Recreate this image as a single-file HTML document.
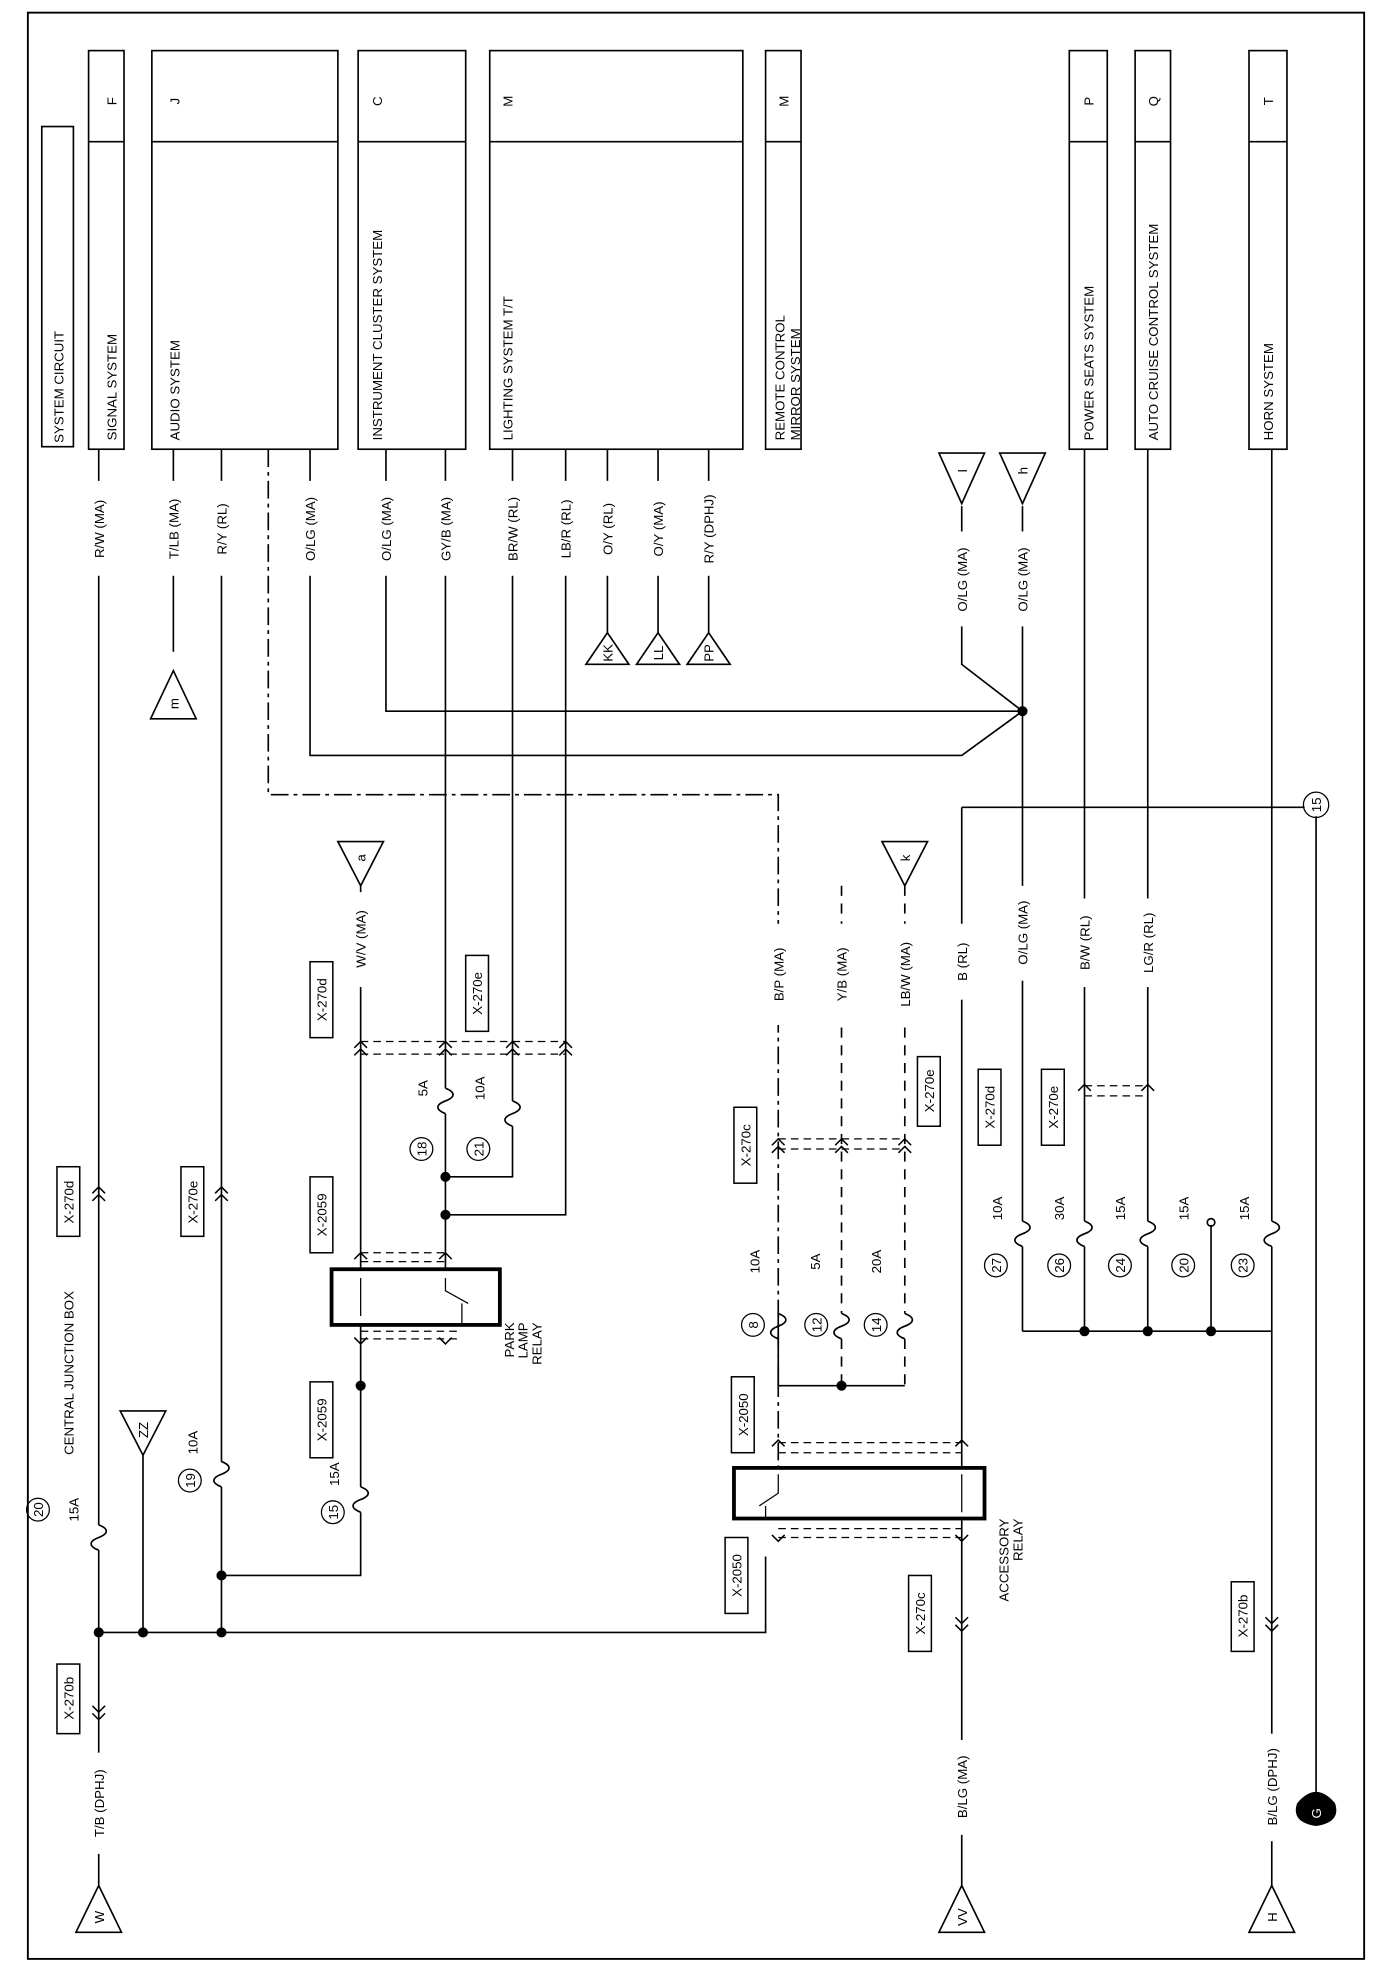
<!DOCTYPE html>
<html><head><meta charset="utf-8"><style>
html,body{margin:0;padding:0;background:#fff}
svg{display:block}
text{font-family:"Liberation Sans",sans-serif;font-size:10.5px;fill:#000}
</style></head><body>
<svg width="1392" height="1988" viewBox="0 0 1100 1571" xmlns="http://www.w3.org/2000/svg">
<rect x="22" y="10" width="1056" height="1538" fill="none" stroke="#000" stroke-width="1.5"/>
<g fill="none" stroke="#000" stroke-width="1.3">
<rect x="33" y="100" width="25" height="253"/>
<rect x="70" y="40" width="28" height="315"/><line x1="70" y1="112" x2="98" y2="112"/>
<rect x="120" y="40" width="147" height="315"/><line x1="120" y1="112" x2="267" y2="112"/>
<rect x="283" y="40" width="85" height="315"/><line x1="283" y1="112" x2="368" y2="112"/>
<rect x="387" y="40" width="200" height="315"/><line x1="387" y1="112" x2="587" y2="112"/>
<rect x="605" y="40" width="28" height="315"/><line x1="605" y1="112" x2="633" y2="112"/>
<rect x="845" y="40" width="30" height="315"/><line x1="845" y1="112" x2="875" y2="112"/>
<rect x="897" y="40" width="28" height="315"/><line x1="897" y1="112" x2="925" y2="112"/>
<rect x="987" y="40" width="30" height="315"/><line x1="987" y1="112" x2="1017" y2="112"/>
<path d="M78 355V1205M78 1225V1490"/>
<path d="M137 355V515"/>
<path d="M175 355V1155M175 1175V1290"/>
<path d="M113 1150V1290"/>
<path d="M78 1290H605V1230"/>
<path d="M212 355V628H615V1090" stroke-dasharray="14 4 3 4"/>
<path d="M245 355V597H760L808 562"/>
<path d="M305 355V562H808"/>
<path d="M352 355V860M352 880V1003"/>
<path d="M405 355V870M405 890V930H352"/>
<path d="M447 355V960H352"/>
<path d="M480 355V500M520 355V500M560 355V500"/>
<path d="M285 700V1003M285 1047V1175M285 1195V1245H175"/>
<path d="M615 1090V1160" stroke-dasharray="14 4 3 4"/>
<path d="M665 700V1038M665 1058V1095" stroke-dasharray="8 6"/>
<path d="M715 700V1038M715 1058V1095" stroke-dasharray="8 6"/>
<path d="M615 1038V1095H715M615 1058V1095"/>
<path d="M760 638V1160M760 1200V1490"/>
<path d="M760 638H1031"/>
<path d="M760 400V525L808 562M808 400V562V965M808 985V1052"/>
<path d="M857 355V965M857 985V1052"/>
<path d="M907 355V965M907 985V1052"/>
<path d="M957 968V1052"/>
<path d="M1005 355V965M1005 985V1490"/>
<path d="M808 1052H1005"/>
<path d="M1040 645V1420"/>
<g stroke-dasharray="6 4" stroke-width="1">
<path d="M285 823H447M285 833H447"/>
<path d="M285 990H352M285 997H352"/>
<path d="M285 1052H365M285 1058H365"/>
<path d="M615 900H715M615 908H715"/>
<path d="M615 1140H760M615 1148H760"/>
<path d="M615 1208H760M615 1215H760"/>
<path d="M857 858H907M857 866H907"/>
</g>
<rect x="262" y="1003" width="133" height="44" stroke-width="3"/>
<path d="M285 1010V1040M352 1010V1020L370 1030M365 1030V1047" stroke-width="1"/>
<rect x="580" y="1160" width="198" height="40" stroke-width="3"/>
<path d="M615 1165V1180L600 1190M605 1190V1200M760 1165V1195" stroke-width="1"/>
<g stroke-width="1.3">
<path d="M78 1205c8 3 8 7 0 10c-8 3 -8 7 0 10"/>
<path d="M175 1155c8 3 8 7 0 10c-8 3 -8 7 0 10"/>
<path d="M285 1175c8 3 8 7 0 10c-8 3 -8 7 0 10"/>
<path d="M352 860c8 3 8 7 0 10c-8 3 -8 7 0 10"/>
<path d="M405 870c8 3 8 7 0 10c-8 3 -8 7 0 10"/>
<path d="M615 1038c8 3 8 7 0 10c-8 3 -8 7 0 10"/>
<path d="M665 1038c8 3 8 7 0 10c-8 3 -8 7 0 10"/>
<path d="M715 1038c8 3 8 7 0 10c-8 3 -8 7 0 10"/>
<path d="M808 965c8 3 8 7 0 10c-8 3 -8 7 0 10"/>
<path d="M857 965c8 3 8 7 0 10c-8 3 -8 7 0 10"/>
<path d="M907 965c8 3 8 7 0 10c-8 3 -8 7 0 10"/>
<path d="M1005 965c8 3 8 7 0 10c-8 3 -8 7 0 10"/>
</g>
<circle cx="957" cy="966" r="3"/>
<g stroke-width="1.2">
<path d="M73 943l5-5 5 5M73 949l5-5 5 5"/>
<path d="M170 943l5-5 5 5M170 949l5-5 5 5"/>
<path d="M73 1348l5 5 5-5M73 1354l5 5 5-5"/>
<path d="M1000 1278l5 5 5-5M1000 1284l5 5 5-5"/>
<path d="M755 1278l5 5 5-5M755 1284l5 5 5-5"/>
<path d="M280 828l5-5 5 5M280 834l5-5 5 5M347 828l5-5 5 5M347 834l5-5 5 5M400 828l5-5 5 5M400 834l5-5 5 5M442 828l5-5 5 5M442 834l5-5 5 5"/>
<path d="M280 995l5-5 5 5M347 995l5-5 5 5M280 1057l5 5 5-5M347 1057l5 5 5-5"/>
<path d="M610 905l5-5 5 5M660 905l5-5 5 5M710 905l5-5 5 5M610 911l5-5 5 5M660 911l5-5 5 5M710 911l5-5 5 5"/>
<path d="M610 1143l5-5 5 5M755 1143l5-5 5 5M610 1213l5 5 5-5M755 1213l5 5 5-5"/>
<path d="M852 862l5-5 5 5M902 862l5-5 5 5"/>
</g>
<path d="M137 530L155 568H119Z"/>
<path d="M480 500L497 525H463Z"/>
<path d="M520 500L537 525H503Z"/>
<path d="M560 500L577 525H543Z"/>
<path d="M760 398L742 358H778Z"/>
<path d="M808 398L790 358H826Z"/>
<path d="M285 700L267 665H303Z"/>
<path d="M715 700L697 665H733Z"/>
<path d="M113 1150L95 1115H131Z"/>
<path d="M78 1490L96 1527H60Z"/>
<path d="M760 1490L778 1527H742Z"/>
<path d="M1005 1490L1023 1527H987Z"/>
<g stroke-width="1">
<circle cx="30" cy="1193" r="9"/><circle cx="150" cy="1170" r="9"/><circle cx="263" cy="1195" r="9"/>
<circle cx="333" cy="908" r="9"/><circle cx="378" cy="908" r="9"/>
<circle cx="595" cy="1047" r="9"/><circle cx="645" cy="1047" r="9"/><circle cx="692" cy="1047" r="9"/>
<circle cx="787" cy="1000" r="9"/><circle cx="837" cy="1000" r="9"/><circle cx="885" cy="1000" r="9"/><circle cx="935" cy="1000" r="9"/><circle cx="982" cy="1000" r="9"/>
<circle cx="1040" cy="636" r="10"/>
</g>
<g stroke-width="1.2">
<rect x="45" y="922" width="18" height="55"/><rect x="143" y="922" width="18" height="55"/>
<rect x="245" y="760" width="18" height="60"/><rect x="368" y="755" width="18" height="60"/>
<rect x="245" y="930" width="18" height="60"/><rect x="245" y="1092" width="18" height="60"/>
<rect x="580" y="875" width="18" height="60"/><rect x="725" y="835" width="18" height="55"/>
<rect x="773" y="845" width="18" height="60"/><rect x="823" y="845" width="18" height="60"/>
<rect x="578" y="1088" width="18" height="60"/><rect x="573" y="1215" width="18" height="60"/>
<rect x="718" y="1245" width="18" height="60"/><rect x="45" y="1315" width="18" height="55"/>
<rect x="973" y="1250" width="18" height="55"/>
</g>
</g>
<g fill="#000">
<circle cx="78" cy="1290" r="4"/><circle cx="113" cy="1290" r="4"/><circle cx="175" cy="1290" r="4"/><circle cx="175" cy="1245" r="4"/>
<circle cx="285" cy="1095" r="4"/><circle cx="352" cy="930" r="4"/><circle cx="352" cy="960" r="4"/>
<circle cx="665" cy="1095" r="4"/><circle cx="808" cy="562" r="4"/>
<circle cx="857" cy="1052" r="4"/><circle cx="907" cy="1052" r="4"/><circle cx="957" cy="1052" r="4"/>
<path d="M1025 1425q15-18 30 0q5 15-15 18q-20-3-15-18z"/>
</g>
<g fill="#fff">
<rect x="70" y="380" width="16" height="75"/><rect x="129" y="380" width="16" height="75"/><rect x="167" y="380" width="16" height="75"/>
<rect x="237" y="380" width="16" height="75"/><rect x="297" y="380" width="16" height="75"/><rect x="344" y="380" width="16" height="75"/>
<rect x="397" y="380" width="16" height="75"/><rect x="439" y="380" width="16" height="75"/><rect x="472" y="380" width="16" height="75"/>
<rect x="512" y="380" width="16" height="75"/><rect x="552" y="380" width="16" height="75"/>
<rect x="752" y="420" width="16" height="75"/><rect x="800" y="420" width="16" height="75"/>
<rect x="277" y="705" width="16" height="75"/><rect x="607" y="730" width="16" height="80"/><rect x="657" y="730" width="16" height="80"/>
<rect x="707" y="730" width="16" height="80"/><rect x="752" y="730" width="16" height="60"/><rect x="800" y="700" width="16" height="75"/>
<rect x="849" y="710" width="16" height="70"/><rect x="899" y="710" width="16" height="70"/>
<rect x="70" y="1385" width="16" height="80"/><rect x="752" y="1375" width="16" height="75"/><rect x="997" y="1370" width="16" height="85"/>
</g>
<g>
<text transform="translate(50,350) rotate(-90)">SYSTEM CIRCUIT</text>
<text transform="translate(92,348) rotate(-90)">SIGNAL SYSTEM</text>
<text transform="translate(92,80) rotate(-90)" text-anchor="middle">F</text>
<text transform="translate(142,348) rotate(-90)">AUDIO SYSTEM</text>
<text transform="translate(142,80) rotate(-90)" text-anchor="middle">J</text>
<text transform="translate(302,348) rotate(-90)">INSTRUMENT CLUSTER SYSTEM</text>
<text transform="translate(302,80) rotate(-90)" text-anchor="middle">C</text>
<text transform="translate(405,348) rotate(-90)">LIGHTING SYSTEM T/T</text>
<text transform="translate(405,80) rotate(-90)" text-anchor="middle">M</text>
<text transform="translate(620,348) rotate(-90)">REMOTE CONTROL</text>
<text transform="translate(632,348) rotate(-90)">MIRROR SYSTEM</text>
<text transform="translate(623,80) rotate(-90)" text-anchor="middle">M</text>
<text transform="translate(864,348) rotate(-90)">POWER SEATS SYSTEM</text>
<text transform="translate(864,80) rotate(-90)" text-anchor="middle">P</text>
<text transform="translate(915,348) rotate(-90)">AUTO CRUISE CONTROL SYSTEM</text>
<text transform="translate(915,80) rotate(-90)" text-anchor="middle">Q</text>
<text transform="translate(1006,348) rotate(-90)">HORN SYSTEM</text>
<text transform="translate(1006,80) rotate(-90)" text-anchor="middle">T</text>
<g text-anchor="middle">
<text transform="translate(82,418) rotate(-90)">R/W (MA)</text>
<text transform="translate(141,418) rotate(-90)">T/LB (MA)</text>
<text transform="translate(179,418) rotate(-90)">R/Y (RL)</text>
<text transform="translate(249,418) rotate(-90)">O/LG (MA)</text>
<text transform="translate(309,418) rotate(-90)">O/LG (MA)</text>
<text transform="translate(356,418) rotate(-90)">GY/B (MA)</text>
<text transform="translate(409,418) rotate(-90)">BR/W (RL)</text>
<text transform="translate(451,418) rotate(-90)">LB/R (RL)</text>
<text transform="translate(484,418) rotate(-90)">O/Y (RL)</text>
<text transform="translate(524,418) rotate(-90)">O/Y (MA)</text>
<text transform="translate(564,418) rotate(-90)">R/Y (DPHJ)</text>
<text transform="translate(764,458) rotate(-90)">O/LG (MA)</text>
<text transform="translate(812,458) rotate(-90)">O/LG (MA)</text>
<text transform="translate(289,742) rotate(-90)">W/V (MA)</text>
<text transform="translate(619,770) rotate(-90)">B/P (MA)</text>
<text transform="translate(669,770) rotate(-90)">Y/B (MA)</text>
<text transform="translate(719,770) rotate(-90)">LB/W (MA)</text>
<text transform="translate(764,760) rotate(-90)">B (RL)</text>
<text transform="translate(812,737) rotate(-90)">O/LG (MA)</text>
<text transform="translate(861,745) rotate(-90)">B/W (RL)</text>
<text transform="translate(911,745) rotate(-90)">LG/R (RL)</text>
<text transform="translate(82,1425) rotate(-90)">T/B (DPHJ)</text>
<text transform="translate(764,1412) rotate(-90)">B/LG (MA)</text>
<text transform="translate(1009,1412) rotate(-90)">B/LG (DPHJ)</text>
<text transform="translate(58,1085) rotate(-90)">CENTRAL JUNCTION BOX</text>
<text transform="translate(62,1193) rotate(-90)">15A</text>
<text transform="translate(156,1140) rotate(-90)">10A</text>
<text transform="translate(268,1165) rotate(-90)">15A</text>
<text transform="translate(338,860) rotate(-90)">5A</text>
<text transform="translate(383,860) rotate(-90)">10A</text>
<text transform="translate(600,997) rotate(-90)">10A</text>
<text transform="translate(648,997) rotate(-90)">5A</text>
<text transform="translate(696,997) rotate(-90)">20A</text>
<text transform="translate(792,955) rotate(-90)">10A</text>
<text transform="translate(841,955) rotate(-90)">30A</text>
<text transform="translate(889,955) rotate(-90)">15A</text>
<text transform="translate(939,955) rotate(-90)">15A</text>
<text transform="translate(987,955) rotate(-90)">15A</text>
<text transform="translate(34,1193) rotate(-90)">20</text>
<text transform="translate(154,1170) rotate(-90)">19</text>
<text transform="translate(267,1195) rotate(-90)">15</text>
<text transform="translate(337,908) rotate(-90)">18</text>
<text transform="translate(382,908) rotate(-90)">21</text>
<text transform="translate(599,1047) rotate(-90)">8</text>
<text transform="translate(649,1047) rotate(-90)">12</text>
<text transform="translate(696,1047) rotate(-90)">14</text>
<text transform="translate(791,1000) rotate(-90)">27</text>
<text transform="translate(841,1000) rotate(-90)">26</text>
<text transform="translate(889,1000) rotate(-90)">24</text>
<text transform="translate(939,1000) rotate(-90)">20</text>
<text transform="translate(986,1000) rotate(-90)">23</text>
<text transform="translate(1044,636) rotate(-90)">15</text>
<text transform="translate(58,950) rotate(-90)">X-270d</text>
<text transform="translate(156,950) rotate(-90)">X-270e</text>
<text transform="translate(258,790) rotate(-90)">X-270d</text>
<text transform="translate(381,785) rotate(-90)">X-270e</text>
<text transform="translate(258,960) rotate(-90)">X-2059</text>
<text transform="translate(258,1122) rotate(-90)">X-2059</text>
<text transform="translate(593,905) rotate(-90)">X-270c</text>
<text transform="translate(738,862) rotate(-90)">X-270e</text>
<text transform="translate(786,875) rotate(-90)">X-270d</text>
<text transform="translate(836,875) rotate(-90)">X-270e</text>
<text transform="translate(591,1118) rotate(-90)">X-2050</text>
<text transform="translate(586,1245) rotate(-90)">X-2050</text>
<text transform="translate(731,1275) rotate(-90)">X-270c</text>
<text transform="translate(58,1342) rotate(-90)">X-270b</text>
<text transform="translate(986,1277) rotate(-90)">X-270b</text>
<text transform="translate(141,556) rotate(-90)">m</text>
<text transform="translate(484,516) rotate(-90)">KK</text>
<text transform="translate(524,516) rotate(-90)">LL</text>
<text transform="translate(564,516) rotate(-90)">PP</text>
<text transform="translate(764,372) rotate(-90)">I</text>
<text transform="translate(812,372) rotate(-90)">h</text>
<text transform="translate(289,678) rotate(-90)">a</text>
<text transform="translate(719,678) rotate(-90)">k</text>
<text transform="translate(117,1130) rotate(-90)">ZZ</text>
<text transform="translate(82,1515) rotate(-90)">W</text>
<text transform="translate(764,1515) rotate(-90)">VV</text>
<text transform="translate(1009,1515) rotate(-90)">H</text>
<text transform="translate(1044,1433) rotate(-90)" style="fill:#fff">G</text>
</g>
<text transform="translate(406,1045) rotate(-90)" text-anchor="end">PARK</text>
<text transform="translate(417,1045) rotate(-90)" text-anchor="end">LAMP</text>
<text transform="translate(428,1045) rotate(-90)" text-anchor="end">RELAY</text>
<text transform="translate(797,1200) rotate(-90)" text-anchor="end">ACCESSORY</text>
<text transform="translate(808,1200) rotate(-90)" text-anchor="end">RELAY</text>
</g>
</svg>
</body></html>
